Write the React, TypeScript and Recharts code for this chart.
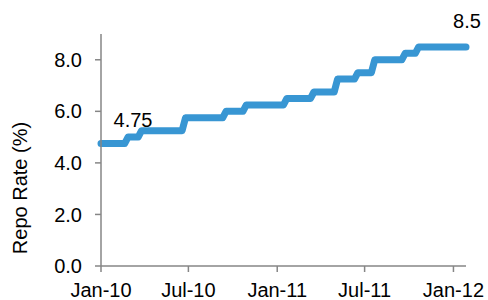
import { LineChart, Line, XAxis, YAxis, ReferenceDot, Label } from "recharts";

// weekly (Friday) readings around each policy change
const dates = [
  "2010-01-01", "2010-02-19", "2010-02-26", "2010-03-19", "2010-03-26",
  "2010-06-18", "2010-06-25", "2010-09-10", "2010-09-17", "2010-10-22",
  "2010-10-29", "2011-01-14", "2011-01-21", "2011-03-11", "2011-03-18",
  "2011-04-29", "2011-05-06", "2011-06-10", "2011-06-17", "2011-07-15",
  "2011-07-22", "2011-09-16", "2011-09-23", "2011-10-14", "2011-10-21",
  "2012-01-27",
];
const repoRate = [
  4.75, 4.75, 5.0, 5.0, 5.25,
  5.25, 5.75, 5.75, 6.0, 6.0,
  6.25, 6.25, 6.5, 6.5, 6.75,
  6.75, 7.25, 7.25, 7.5, 7.5,
  8.0, 8.0, 8.25, 8.25, 8.5,
  8.5,
];
const tickDates = ["2010-01-01", "2010-07-01", "2011-01-01", "2011-07-01", "2012-01-01"];
const tickLabels = ["Jan-10", "Jul-10", "Jan-11", "Jul-11", "Jan-12"];
const yTicks = [0, 2, 4, 6, 8];

const toTime = (d: string) => Date.parse(d + "T00:00:00Z");

const data = dates.map((d, i) => ({ t: toTime(d), rate: repoRate[i] }));
const xTicks = tickDates.map(toTime);

const FONT = "'Liberation Sans', Arial, sans-serif";
const AXIS = "#868686";
const BLUE = "#3896d3";

const first = data[0];
const last = data[data.length - 1];

export default function App() {
  return (
    <div style={{ position: "absolute", left: 0, top: 0, fontFamily: FONT }}>
      <LineChart width={488} height={300} data={data}
        margin={{ top: 34, right: 22, bottom: 0, left: 0 }}>
        <XAxis dataKey="t" type="number" scale="linear" domain={["dataMin", "dataMax"]}
          ticks={xTicks} interval={0} height={34}
          tickFormatter={(v: number) => tickLabels[xTicks.indexOf(v)] ?? ""}
          tick={{ fill: "#000", fontSize: 20, fontFamily: FONT }}
          axisLine={{ stroke: AXIS, strokeWidth: 1.5 }}
          tickLine={{ stroke: AXIS, strokeWidth: 1.5 }}
          tickSize={6} tickMargin={11} />
        <YAxis domain={[0, 9]} ticks={yTicks} width={101} interval={0}
          tickFormatter={(v: number) => v.toFixed(1)}
          tick={{ fill: "#000", fontSize: 20, fontFamily: FONT }}
          axisLine={{ stroke: AXIS, strokeWidth: 1.5 }}
          tickLine={{ stroke: AXIS, strokeWidth: 1.5 }}
          tickSize={6} tickMargin={13}>
          <Label content={() => (
            <text x={20} y={188} transform="rotate(-90, 20, 188)" textAnchor="middle"
              dominantBaseline="central" fontSize={20} fontFamily={FONT} fill="#000">
              Repo Rate (%)
            </text>
          )} />
        </YAxis>
        <Line type="linear" dataKey="rate" stroke={BLUE} strokeWidth={7}
          strokeLinecap="round" strokeLinejoin="round"
          dot={false} activeDot={false} isAnimationActive={false} />
        <ReferenceDot x={first.t} y={first.rate} r={0} ifOverflow="visible"
          shape={(p: any) => (
            <text x={p.cx + 32} y={p.cy - 17} textAnchor="middle" fontSize={20}
              fontFamily={FONT} fill="#000">{String(first.rate)}</text>
          )} />
        <ReferenceDot x={last.t} y={last.rate} r={0} ifOverflow="visible"
          shape={(p: any) => (
            <text x={p.cx + 1} y={p.cy - 18.5} textAnchor="middle" fontSize={20}
              fontFamily={FONT} fill="#000">{String(last.rate)}</text>
          )} />
      </LineChart>
    </div>
  );
}
